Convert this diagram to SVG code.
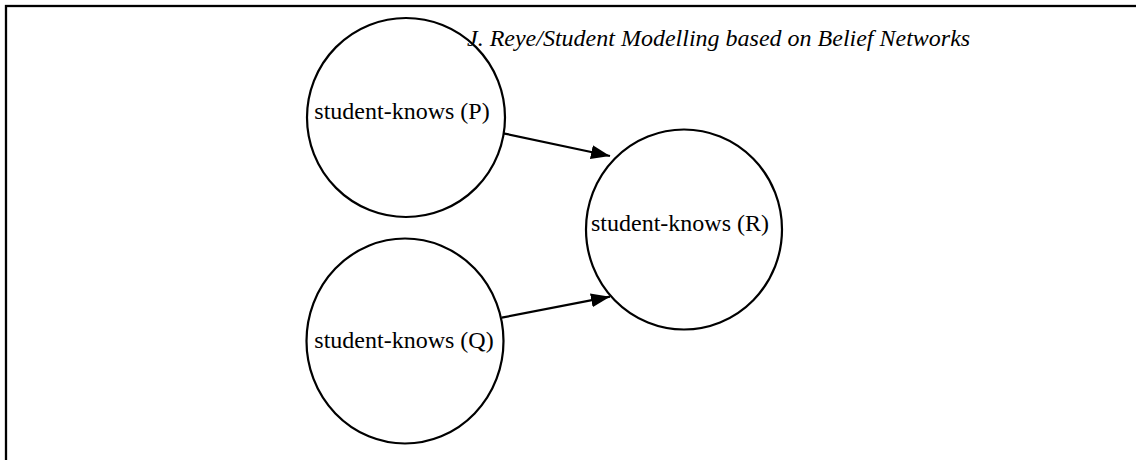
<svg xmlns="http://www.w3.org/2000/svg" width="1136" height="460" viewBox="0 0 1136 460">
  <style>
    .node { fill: #ffffff; stroke: #000000; stroke-width: 2.2; }
    .label { font-family: "Liberation Serif", "Times New Roman", serif; font-size: 24px; fill: #000000; text-anchor: middle; }
    .title { font-family: "Liberation Serif", "Times New Roman", serif; font-size: 24px; font-style: italic; fill: #000000; }
    .edge { stroke: #000000; stroke-width: 2.2; fill: none; }
  </style>
  <defs>
    <marker id="arrow" markerUnits="userSpaceOnUse" markerWidth="20" markerHeight="14" refX="19" refY="7" orient="auto">
      <path d="M0,0 L19,7 L0,14 Z" fill="#000000"/>
    </marker>
  </defs>
  <rect x="0" y="0" width="1136" height="460" fill="#ffffff"/>
  <rect x="6" y="6" width="1200" height="520" fill="none" stroke="#000000" stroke-width="2.3"/>
  <g id="node-P">
    <ellipse class="node" cx="406" cy="117.5" rx="99" ry="99.5"/>
    <text class="label" x="402" y="119">student-knows (P)</text>
  </g>
  <g id="node-Q">
    <ellipse class="node" cx="405" cy="341" rx="98.5" ry="102.5"/>
    <text class="label" x="404" y="348">student-knows (Q)</text>
  </g>
  <g id="node-R">
    <ellipse class="node" cx="684" cy="229.5" rx="98" ry="100"/>
    <text class="label" x="680" y="231">student-knows (R)</text>
  </g>
  <g id="title">
    <text class="title" x="467" y="46">J. Reye/Student Modelling based on Belief Networks</text>
  </g>
  <g id="connectors">
    <line class="edge" x1="503.3" y1="133.3" x2="610" y2="156" marker-end="url(#arrow)"/>
    <line class="edge" x1="501.7" y1="317.7" x2="610" y2="296.7" marker-end="url(#arrow)"/>
  </g>
</svg>
